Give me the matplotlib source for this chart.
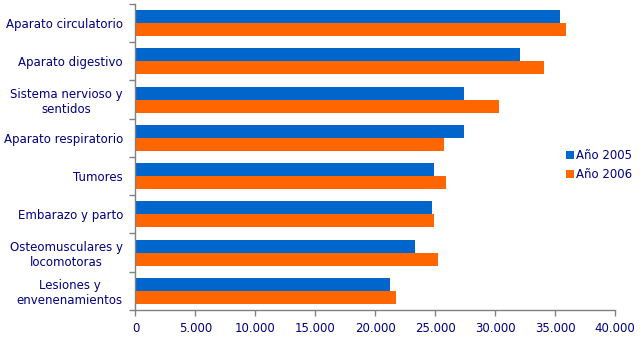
import matplotlib
matplotlib.use("Agg")
import matplotlib.pyplot as plt
import numpy as np
from matplotlib.ticker import FuncFormatter, MultipleLocator, FixedLocator

categories = ["Aparato circulatorio", "Aparato digestivo", "Sistema nervioso y\nsentidos",
              "Aparato respiratorio", "Tumores", "Embarazo y parto",
              "Osteomusculares y\nlocomotoras", "Lesiones y\nenvenenamientos"]
v2005 = [35400, 32050, 27400, 27400, 24900, 24700, 23300, 21200]
v2006 = [35900, 34050, 30300, 25700, 25900, 24900, 25200, 21700]

blue = "#0066CC"
orange = "#FF6600"
navy = "#000080"
grey = "#808080"

fig = plt.figure(figsize=(6.43, 3.6), dpi=100)
ax = fig.add_axes([0.2107, 0.1389, 0.7458, 0.85])

n = len(categories)
y = np.arange(n)
h = 0.34
b1 = ax.barh(y - h/2, v2005, height=h, color=blue, label="Año 2005")
b2 = ax.barh(y + h/2, v2006, height=h, color=orange, label="Año 2006")

ax.set_ylim(n - 0.5, -0.5)
ax.set_xlim(0, 40000)
ax.xaxis.set_major_locator(MultipleLocator(5000))
ax.xaxis.set_major_formatter(FuncFormatter(lambda v, p: "0" if v == 0 else f"{int(v):,}".replace(",", ".")))

ax.set_yticks(y)
ax.set_yticklabels(categories, multialignment="center", color=navy, fontsize=8.5, linespacing=1.2)
ax.yaxis.set_minor_locator(FixedLocator(np.arange(-0.5, n, 1.0)))
ax.tick_params(axis="y", which="major", length=0, pad=9)
ax.tick_params(axis="y", which="minor", length=4, color=grey, direction="out", width=1)
ax.tick_params(axis="x", which="major", length=4, color=grey, labelcolor=navy, labelsize=8.5, width=1, pad=5)

for s in ["top", "right"]:
    ax.spines[s].set_visible(False)
for s in ["left", "bottom"]:
    ax.spines[s].set_color(grey)
    ax.spines[s].set_linewidth(1)

leg = fig.legend(handles=[b1, b2], labels=["Año 2005", "Año 2006"],
                 loc="center left", bbox_to_anchor=(0.864, 0.542),
                 frameon=False, fontsize=8.5, handlelength=0.65, handleheight=0.65,
                 handletextpad=0.15, labelspacing=0.5)
for t in leg.get_texts():
    t.set_color(navy)

fig.savefig("out.png", dpi=100)
